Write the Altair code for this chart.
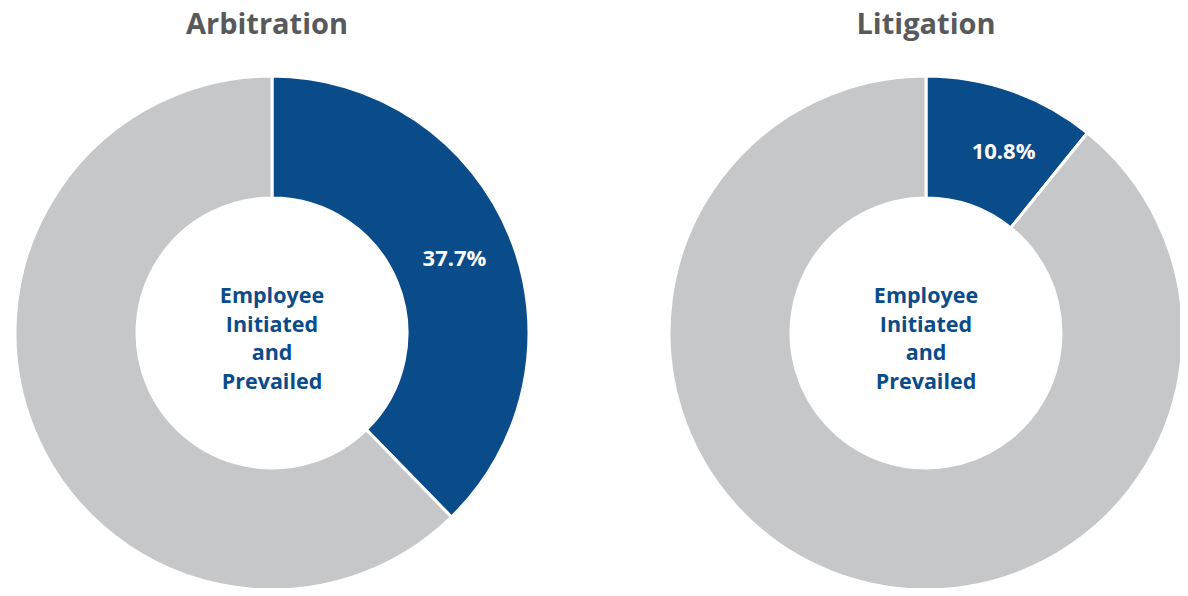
import altair as alt
import pandas as pd

# ---- data ----
panels = ["Arbitration", "Litigation"]
prevailed_pct = [37.7, 10.8]
pct_labels = ["37.7%", "10.8%"]
categories = ["Employee Initiated and Prevailed", "Other"]
center_lines = ["Employee", "Initiated", "and", "Prevailed"]

BLUE = "#0A4C8A"
GRAY = "#C6C7C9"
TITLE_GRAY = "#58595B"
FONT = "Open Sans"

rows = []
for p, v, lab in zip(panels, prevailed_pct, pct_labels):
    rows.append({"panel": p, "category": categories[0], "value": v, "order": 0, "label": lab})
    rows.append({"panel": p, "category": categories[1], "value": round(100 - v, 1), "order": 1, "label": ""})
df = pd.DataFrame(rows)

# layout (svg coordinates; page offset is 8px)
centers_x = [264, 918]
title_shift = [-5, 0]
label_dx = [0, 12]
label_dy = [0, 5]
CY = 325
R_OUT = 257
R_IN = 135

layers = []
for i, p in enumerate(panels):
    cx = centers_x[i]
    base = (
        alt.Chart(df)
        .transform_filter(alt.datum.panel == p)
        .transform_stack(stack="value", groupby=["panel"], as_=["v0", "v1"],
                         sort=[alt.SortField("order")])
    )
    arcs = base.mark_arc(outerRadius=R_OUT, innerRadius=R_IN, stroke="white", strokeWidth=3).encode(
        theta=alt.Theta("v0:Q", scale=alt.Scale(domain=[0, 100])),
        theta2="v1:Q",
        color=alt.Color("category:N", scale=alt.Scale(domain=categories, range=[BLUE, GRAY]), legend=None),
        x=alt.value(cx),
        y=alt.value(CY),
    )
    labels = (
        base.transform_filter(alt.datum.order == 0)
        .transform_calculate(mid="(datum.v0 + datum.v1) / 2")
        .mark_text(radius=197, font=FONT, fontSize=22, fontWeight="bold", color="white",
                   align="center", baseline="middle", dx=label_dx[i], dy=label_dy[i])
        .encode(
            theta=alt.Theta("mid:Q", scale=alt.Scale(domain=[0, 100])),
            text="label:N",
            x=alt.value(cx),
            y=alt.value(CY),
        )
    )
    center = (
        alt.Chart(pd.DataFrame({"t": ["\n".join(center_lines)]}))
        .mark_text(lineBreak="\n", lineHeight=28.7, font=FONT, fontSize=21.5, fontWeight="bold",
                   color=BLUE, align="center", baseline="top")
        .encode(text="t:N", x=alt.value(cx), y=alt.value(CY - 47))
    )
    title = (
        alt.Chart(pd.DataFrame({"t": [p]}))
        .mark_text(font=FONT, fontSize=29, fontWeight="bold", color=TITLE_GRAY,
                   align="center", baseline="middle")
        .encode(text="t:N", x=alt.value(cx + title_shift[i]), y=alt.value(17))
    )
    layers += [arcs, labels, center, title]

chart = (
    alt.layer(*layers)
    .properties(width=1172, height=580, padding=0,
                autosize=alt.AutoSizeParams(type="none"))
    .configure_view(strokeWidth=0)
)

chart.save("out.html", embed_options={"renderer": "svg", "actions": False})
